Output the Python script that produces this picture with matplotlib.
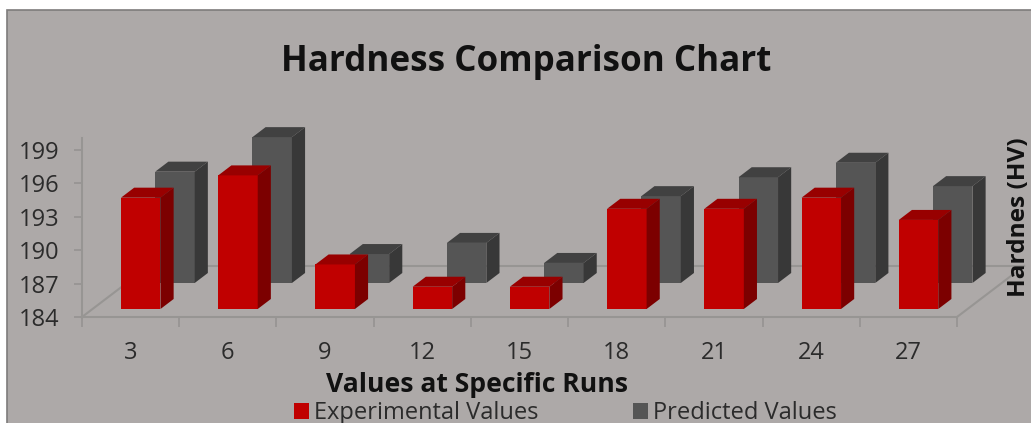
import matplotlib
matplotlib.use("Agg")
import matplotlib.pyplot as plt
from matplotlib.patches import Rectangle

runs = [3, 6, 9, 12, 15, 18, 21, 24, 27]
experimental = [194, 196, 188, 186, 186, 193, 193, 194, 192]
predicted = [194, 197.1, 186.6, 187.6, 185.8, 191.8, 193.5, 194.8, 192.7]
y_ticks = [184, 187, 190, 193, 196, 199]
title = "Hardness Comparison Chart"
x_title = "Values at Specific Runs"
y_title = "Hardnes (HV)"
series_names = ["Experimental Values", "Predicted Values"]

BG = "#ADA9A8"
AXIS = "#979593"
EXP = ("#C00000", "#7C0000", "#980000")
PRED = ("#555555", "#383838", "#414141")
TXT = "#2B2B2B"
FONT = "Open Sans"
plt.rcParams["font.family"] = FONT

W, H = 1031, 423
fig = plt.figure(figsize=(W / 100, H / 100), dpi=100, facecolor="white")
fig.patches.append(Rectangle((7 / W, -0.02), 1.02, (H - 10) / H + 0.02, transform=fig.transFigure,
                             facecolor=BG, edgecolor="#7E7C7B", linewidth=1.2, zorder=-5))
ax = fig.add_axes([82 / W, (H - 317) / H, 875 / W, 179 / H])
ax.patch.set_alpha(0)
base = y_ticks[0]
ax.set_xlim(0, len(runs))
ax.set_ylim(base, base + 179 / (167 / 15))

# oblique projection: one unit of depth in data units
DX, DY = 0.69, 4.58
BAR_L, BAR_W = 0.293, 0.406
BAR_DEPTH = 0.196


def box(i, value, depth, colors, label=None):
    x0 = i + BAR_L + depth * DX
    y0 = base + depth * DY
    h = value - base
    ox, oy = BAR_DEPTH * DX, BAR_DEPTH * DY
    if colors is EXP:
        z = 5 + i * 0.01
    else:
        z = 3 + i * 0.01
    bars = ax.bar(x0, h, BAR_W, bottom=y0, align="edge", color=colors[0], zorder=z, clip_on=False, label=label)
    ax.fill([x0 + BAR_W, x0 + BAR_W + ox, x0 + BAR_W + ox, x0 + BAR_W],
            [y0, y0 + oy, y0 + h + oy, y0 + h], color=colors[1], lw=0, zorder=z, clip_on=False)
    ax.fill([x0, x0 + ox, x0 + BAR_W + ox, x0 + BAR_W],
            [y0 + h, y0 + h + oy, y0 + h + oy, y0 + h], color=colors[2], lw=0, zorder=z, clip_on=False)
    return bars


# floor
n = len(runs)
for xs, ys in (([0, DX], [base, base + DY]),
               ([n, n + DX], [base, base + DY]),
               ([DX, n + DX], [base + DY, base + DY])):
    ax.plot(xs, ys, color=AXIS, lw=1.5, zorder=1, clip_on=False)

handles = [None, None]
for i in range(n):
    handles[1] = box(i, predicted[i], 0.667, PRED)
for i in range(n):
    handles[0] = box(i, experimental[i], 0.157, EXP)

for s in ("top", "right"):
    ax.spines[s].set_visible(False)
for s in ("left", "bottom"):
    ax.spines[s].set_color(AXIS)
    ax.spines[s].set_linewidth(1.5)

ax.set_yticks(y_ticks)
ax.tick_params(axis="y", length=6, width=1.3, color=AXIS, labelsize=17, labelcolor=TXT, pad=10)
ax.set_xticks(range(n + 1))
ax.set_xticklabels([])
ax.tick_params(axis="x", which="major", length=7, width=1.3, color=AXIS)
ax.set_xticks([i + 0.5 for i in range(n)], minor=True)
ax.set_xticklabels([str(r) for r in runs], minor=True)
ax.tick_params(axis="x", which="minor", length=0, labelsize=17, labelcolor=TXT, pad=17)

ax.set_xlabel(x_title, fontsize=19.1, fontweight="bold", color="#111111", va="center", ha="center")
ax.xaxis.set_label_coords(0.451, -0.38)
ax.yaxis.set_label_position("right")
ax.set_ylabel(y_title, fontsize=17.6, fontweight="bold", color="#111111", rotation=90, va="center", ha="center")
ax.yaxis.set_label_coords(1.071, 0.56)

fig.text(526 / W, (H - 62) / H, title, fontsize=25.2, fontweight="bold", color="#111111", ha="center", va="center")

fig.legend([handles[0][0], handles[1][0]], series_names, loc="center left",
           bbox_to_anchor=(294 / W, (H - 413) / H), ncol=2, frameon=False, fontsize=17,
           labelcolor=TXT, handlelength=0.65, handleheight=0.65, handletextpad=0.2,
           columnspacing=4.0, borderpad=0, borderaxespad=0)

fig.savefig("out.png", dpi=100, facecolor=fig.get_facecolor())
